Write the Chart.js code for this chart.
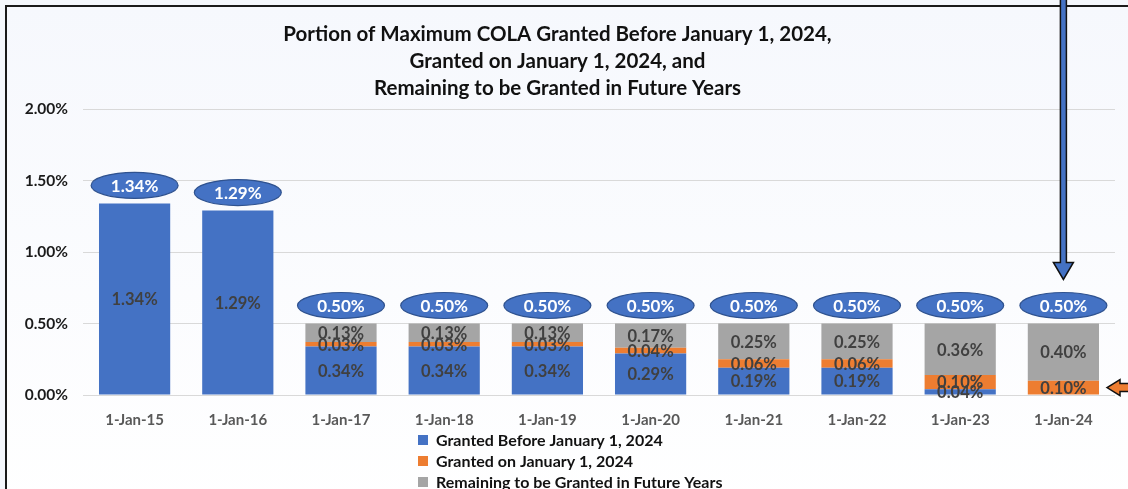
<!DOCTYPE html>
<html lang="en">
<head>
  <meta charset="UTF-8" />
  <title>Portion of Maximum COLA</title>
  <script src="https://cdn.jsdelivr.net/npm/chart.js"></script>
  <style>
    html, body { margin: 0; padding: 0; }
    body { width: 1128px; height: 489px; overflow: hidden; background: #f4f7fc; position: relative; }
    #frame {
      position: absolute; left: 5px; top: 5px; width: 1200px; height: 600px;
      border-left: 2px solid #1a1a1a; border-top: 2px solid #1a1a1a;
      background: linear-gradient(#f6f8fd, #ffffff 85%);
    }
    #chart { position: absolute; left: 0; top: 0; }
  </style>
</head>
<body>
  <div id="frame"></div>
  <canvas id="chart" width="1128" height="489"></canvas>

  <script>
    // data
    const years = ['1-Jan-15', '1-Jan-16', '1-Jan-17', '1-Jan-18', '1-Jan-19', '1-Jan-20', '1-Jan-21', '1-Jan-22', '1-Jan-23', '1-Jan-24'];
    const grantedBefore = [1.34, 1.29, 0.34, 0.34, 0.34, 0.29, 0.19, 0.19, 0.04, 0];
    const grantedOn     = [0, 0, 0.03, 0.03, 0.03, 0.04, 0.06, 0.06, 0.10, 0.10];
    const remaining     = [0, 0, 0.13, 0.13, 0.13, 0.17, 0.25, 0.25, 0.36, 0.40];
    const yTicks = [0, 0.5, 1, 1.5, 2];
    const seriesNames = ['Granted Before January 1, 2024', 'Granted on January 1, 2024', 'Remaining to be Granted in Future Years'];
    const seriesColors = ['#4472c4', '#ed7d31', '#a5a5a5'];
    const titleLines = ['Portion of Maximum COLA Granted Before January 1, 2024,', 'Granted on January 1, 2024, and', 'Remaining to be Granted in Future Years'];

    const FONT = 'Lato, "Open Sans", sans-serif';
    const pct = v => v.toFixed(2) + '%';
    const totals = years.map((_, i) => grantedBefore[i] + grantedOn[i] + remaining[i]);

    // labels inside each segment
    const segmentLabels = {
      id: 'segmentLabels',
      afterDatasetsDraw(chart) {
        const ctx = chart.ctx;
        ctx.save();
        ctx.font = 'bold 16.5px ' + FONT;
        ctx.fillStyle = '#404040';
        ctx.textAlign = 'center';
        ctx.textBaseline = 'middle';
        chart.data.datasets.forEach((ds, d) => {
          chart.getDatasetMeta(d).data.forEach((bar, i) => {
            if (!ds.data[i]) return;
            ctx.fillText(pct(ds.data[i]), bar.x, (bar.y + bar.base) / 2 + 1);
          });
        });
        ctx.restore();
      }
    };

    // blue ellipses with the totals, plus the two arrows
    const callouts = {
      id: 'callouts',
      afterDraw(chart) {
        const ctx = chart.ctx;
        const xs = chart.scales.x, ys = chart.scales.y;
        ctx.save();
        totals.forEach((t, i) => {
          const cx = xs.getPixelForValue(i);
          const cy = ys.getPixelForValue(t) - 18;
          ctx.beginPath();
          ctx.ellipse(cx, cy, 43.5, 13, 0, 0, Math.PI * 2);
          ctx.fillStyle = '#4472c4';
          ctx.fill();
          ctx.lineWidth = 1.2;
          ctx.strokeStyle = '#2f528f';
          ctx.stroke();
          ctx.fillStyle = '#ffffff';
          ctx.font = 'bold 17px ' + FONT;
          ctx.textAlign = 'center';
          ctx.textBaseline = 'middle';
          ctx.fillText(pct(t), cx, cy + 1);
        });

        // down arrow over the last category
        const last = years.length - 1;
        const ax = xs.getPixelForValue(last);
        const tip = ys.getPixelForValue(totals[last]) - 18 - 26;
        ctx.beginPath();
        ctx.moveTo(ax - 3, -2);
        ctx.lineTo(ax + 3, -2);
        ctx.lineTo(ax + 3, tip - 17);
        ctx.lineTo(ax + 10, tip - 17);
        ctx.lineTo(ax, tip);
        ctx.lineTo(ax - 10, tip - 17);
        ctx.lineTo(ax - 3, tip - 17);
        ctx.closePath();
        ctx.fillStyle = '#4472c4';
        ctx.fill();
        ctx.lineWidth = 1.5;
        ctx.strokeStyle = '#111';
        ctx.stroke();

        // left arrow pointing at the orange segment of the last bar
        const bar = chart.getDatasetMeta(1).data[last];
        const tx = bar.x + bar.width / 2 + 8;
        const ty = (bar.y + bar.base) / 2;
        ctx.beginPath();
        ctx.moveTo(tx, ty);
        ctx.lineTo(tx + 13, ty - 8);
        ctx.lineTo(tx + 13, ty - 4);
        ctx.lineTo(tx + 40, ty - 4);
        ctx.lineTo(tx + 40, ty + 4);
        ctx.lineTo(tx + 13, ty + 4);
        ctx.lineTo(tx + 13, ty + 8);
        ctx.closePath();
        ctx.fillStyle = '#ed7d31';
        ctx.fill();
        ctx.stroke();
        ctx.restore();
      }
    };

    // vertical legend under the axis
    const bottomLegend = {
      id: 'bottomLegend',
      afterDraw(chart) {
        const ctx = chart.ctx;
        ctx.save();
        ctx.font = 'bold 16px ' + FONT;
        ctx.textBaseline = 'middle';
        ctx.textAlign = 'left';
        seriesNames.forEach((name, i) => {
          const y = 440 + i * 21;
          ctx.fillStyle = seriesColors[i];
          ctx.fillRect(418, y - 5, 10, 10);
          ctx.fillStyle = '#111';
          ctx.fillText(name, 436, y + 1);
        });
        ctx.restore();
      }
    };

    const chart = new Chart(document.getElementById('chart'), {
      type: 'bar',
      data: {
        labels: years,
        datasets: [
          { label: seriesNames[0], data: grantedBefore, backgroundColor: seriesColors[0] },
          { label: seriesNames[1], data: grantedOn, backgroundColor: seriesColors[1] },
          { label: seriesNames[2], data: remaining, backgroundColor: seriesColors[2] }
        ]
      },
      options: {
        responsive: false,
        animation: false,
        datasets: { bar: { categoryPercentage: 1, barPercentage: 0.69 } },
        layout: { padding: { left: 0, right: 13, bottom: 64 } },
        plugins: {
          legend: { display: false },
          tooltip: { enabled: false },
          title: {
            display: true,
            text: titleLines,
            color: '#111',
            font: { family: FONT, size: 20.5, weight: 'bold', lineHeight: '27px' },
            padding: { top: 21, bottom: 7 }
          }
        },
        scales: {
          x: {
            stacked: true,
            grid: { display: false, drawTicks: false },
            border: { display: false },
            ticks: { color: '#595959', padding: 16, font: { family: FONT, size: 15, weight: 'bold' } },
            afterFit(s) { s.height = 30; }
          },
          y: {
            stacked: true,
            min: 0,
            max: 2,
            afterBuildTicks(s) { s.ticks = yTicks.map(v => ({ value: v })); },
            grid: { color: '#d9d9d9', drawTicks: false },
            border: { display: false },
            ticks: {
              color: '#1a1a1a',
              padding: 15,
              font: { family: FONT, size: 15.5, weight: 'bold' },
              callback: v => pct(v)
            },
            afterFit(s) { s.width = 83; }
          }
        }
      },
      plugins: [segmentLabels, callouts, bottomLegend]
    });
  </script>
</body>
</html>
